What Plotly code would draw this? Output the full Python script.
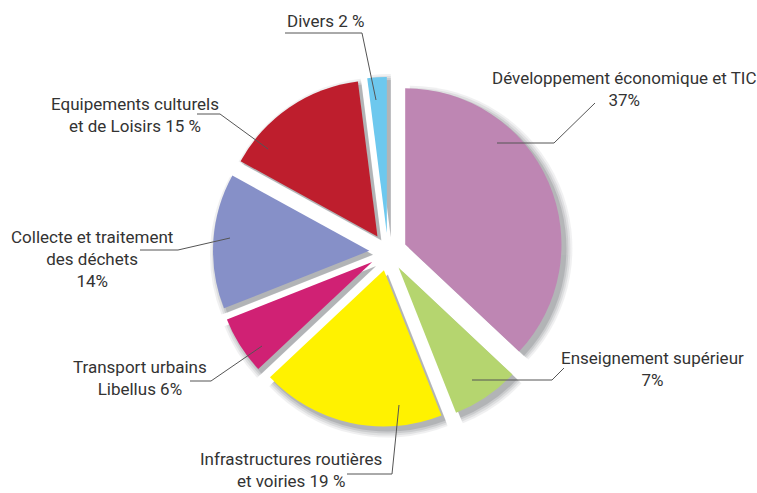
import plotly.graph_objects as go

W, H = 757, 493

labels = ["Développement économique et TIC", "Enseignement supérieur",
          "Infrastructures routières et voiries", "Transport urbains Libellus",
          "Collecte et traitement des déchets", "Equipements culturels et de Loisirs",
          "Divers"]
values = [37, 7, 19, 6, 14, 15, 2]
colors = ["#BE86B3", "#B5D56F", "#FFF200", "#D02174", "#8690C8", "#BE1E2D", "#6DC8EE"]
label_texts = ["Développement économique et TIC<br>37%",
               "Enseignement supérieur<br>7%",
               "Infrastructures routières<br>et voiries 19 %",
               "Transport urbains<br>Libellus 6%",
               "Collecte et traitement<br>des déchets<br>14%",
               "Equipements culturels<br>et de Loisirs 15 %",
               "Divers 2 %"]
PULL = 0.12

# label centres (pixels) and leader-line paths (pixels)
label_pos = [(624, 89), (652, 369), (291, 470), (140, 378), (92, 259), (135, 115), (325, 21)]
leaders = [
    [(497, 143), (554, 143), (595, 103)],
    [(472, 380), (552, 380), (564, 368)],
    [(347, 474), (392, 474), (399, 405)],
    [(190, 381), (211, 381), (262, 346)],
    [(140, 250), (178, 250), (230, 238)],
    [(197, 114), (220, 114), (268, 149)],
    [(285, 33), (362, 33), (376, 100)],
]

CX, CY, HALF = 388, 252, 175


def dom(cx, cy, half):
    return dict(x=[(cx - half - 6) / W, (cx + half + 6) / W],
                y=[1 - (cy + half) / H, 1 - (cy - half) / H])


def px(x, y):
    return x / W, 1 - y / H


fig = go.Figure()
# soft drop shadow made of layered grey pies
for grow, op in [(7, 0.08), (5, 0.10), (3, 0.13), (1, 0.18)]:
    fig.add_trace(go.Pie(
        labels=labels, values=values, sort=False, direction="clockwise", rotation=0,
        pull=[PULL] * len(values), textinfo="none", hoverinfo="skip",
        marker=dict(colors=["#4a4f55"] * len(values)), opacity=op,
        domain=dom(CX + 4, CY + 4, HALF + grow), showlegend=False))

fig.add_trace(go.Pie(
    labels=labels, values=values, sort=False, direction="clockwise", rotation=0,
    pull=[PULL] * len(values), textinfo="none",
    marker=dict(colors=colors), domain=dom(CX, CY, HALF), showlegend=False))

annotations = []
for t, (x, y) in zip(label_texts, label_pos):
    xp, yp = px(x, y)
    annotations.append(dict(x=xp, y=yp, xref="paper", yref="paper", text=t,
                            showarrow=False, xanchor="center", yanchor="middle",
                            align="center",
                            font=dict(family="Roboto", size=17, color="#333333")))

shapes = []
for pts in leaders:
    path = ""
    for i, (x, y) in enumerate(pts):
        xp, yp = px(x, y)
        path += ("M" if i == 0 else "L") + f"{xp},{yp} "
    shapes.append(dict(type="path", path=path.strip(), xref="paper", yref="paper",
                       line=dict(color="#555555", width=1)))

fig.update_layout(width=W, height=H, margin=dict(l=0, r=0, t=0, b=0),
                  paper_bgcolor="white", plot_bgcolor="white",
                  annotations=annotations, shapes=shapes, showlegend=False)

fig.write_html("out.html", config={"displayModeBar": False},
               post_script="document.body.style.margin='0';document.body.style.overflow='hidden';")
